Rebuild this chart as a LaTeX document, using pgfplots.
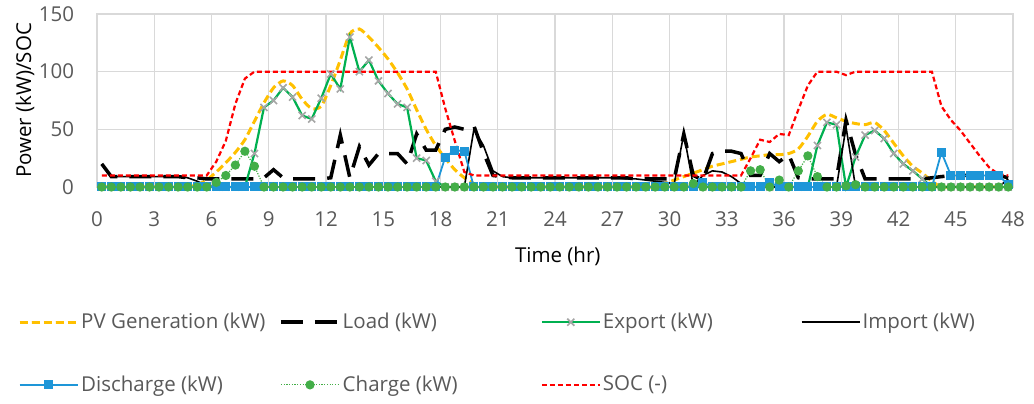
\documentclass[border=0pt]{standalone}
\usepackage{fontspec}
\setmainfont{Open Sans}
\usepackage{pgfplots}
\usepackage{pgfplotstable}
\pgfplotsset{compat=1.18}
\definecolor{txt}{HTML}{595959}
\definecolor{gridc}{HTML}{D9D9D9}
\definecolor{pvc}{HTML}{FFC000}
\definecolor{expc}{HTML}{00B050}
\definecolor{expm}{HTML}{A6A6A6}
\definecolor{disc}{HTML}{1E96D8}
\definecolor{chgc}{HTML}{43AE48}
\definecolor{socc}{HTML}{FF0000}
\newcommand{\lf}{\fontsize{20.5}{24}\selectfont}
\pgfplotstableread{
x pv load exp imp dis chg soc
0.25 0 20 0 20 0 0 10
0.75 0 9 0 9 0 0 10
1.25 0 9 0 9 0 0 10
1.75 0 9 0 9 0 0 10
2.25 0 9 0 9 0 0 10
2.75 0 9 0 9 0 0 10
3.25 0 9 0 9 0 0 10
3.75 0 9 0 9 0 0 10
4.25 0 9 0 9 0 0 10
4.75 0 8 0 8 0 0 10
5.25 2 8 0 5 0 0 10
5.75 6 7 0 1 0 0 10
6.25 13 7 0 0 0 4 22
6.75 21 7 0 0 0 10 40
7.25 30 7 0 0 0 19 72
7.75 41 7 0 0 0 31 94
8.25 57 7 29 0 0 18 100
8.75 73 8 69 0 0 0 100
9.25 86 15 75 0 0 0 100
9.75 92 8 86 0 0 0 100
10.25 88 7 78 0 0 0 100
10.75 76 7 62 0 0 0 100
11.25 68 7 59 0 0 0 100
11.75 70 7 77 0 0 0 100
12.25 88 8 98 0 0 0 100
12.75 110 45 85 0 0 0 100
13.25 133 8 130 0 0 0 100
13.75 137 35 100 0 0 0 100
14.25 130 19 110 0 0 0 100
14.75 121 29 92 0 0 0 100
15.25 111 29 81 0 0 0 100
15.75 99 29 72 0 0 0 100
16.25 85 20 69 0 0 0 100
16.75 67 46 25 0 0 0 100
17.25 50 32 23 0 0 0 100
17.75 36 32 5 0 0 0 100
18.25 25 50 0 0 26 0 68
18.75 15 52 0 0 32 0 40
19.25 8 50 0 0 31 0 13
19.75 3 53 0 50 0 0 10
20.25 0 30 0 36 0 0 10
20.75 0 10 0 14 0 0 10
21.25 0 9 0 9 0 0 10
21.75 0 8 0 8 0 0 10
22.25 0 8 0 8 0 0 10
22.75 0 8 0 8 0 0 10
23.25 0 8 0 8 0 0 10
23.75 0 8 0 8 0 0 10
24.25 0 8 0 8 0 0 10
24.75 0 8 0 8 0 0 10
25.25 0 8 0 8 0 0 10
25.75 0 8 0 8 0 0 10
26.25 0 8 0 8 0 0 10
26.75 0 8 0 8 0 0 10
27.25 0 8 0 8 0 0 10
27.75 0 8 0 7 0 0 10
28.25 0 7 0 7 0 0 10
28.75 0 7 0 6 0 0 10
29.25 0 7 0 5 0 0 10
29.75 3 7 0 4 0 0 10
30.25 6 7 0 3 0 0 10
30.75 9 46 0 46 0 0 10
31.25 12 10 0 1 0 3 10
31.75 15 6 0 10 4 0 10
32.25 18 29 0 14 0 0 10
32.75 20 31 0 13 0 0 10
33.25 22 31 0 9 0 0 10
33.75 24 29 0 3 0 0 10
34.25 26 10 0 0 0 14 25
34.75 27 10 0 0 0 15 41
35.25 28 29 0 0 4 0 39
35.75 28 22 0 0 0 6 46
36.25 29 28 0 0 0 0 45
36.75 33 8 0 0 0 14 67
37.25 44 7 0 0 0 27 88
37.75 57 7 36 0 0 9 100
38.25 63 7 56 0 0 0 100
38.75 60 7 54 0 0 0 100
39.25 57 58 0 52 0 1 97
39.75 55 28 26 0 0 2 100
40.25 54 7 45 0 0 0 100
40.75 56 7 49 0 0 0 100
41.25 49 7 42 0 0 0 100
41.75 38 7 29 0 0 0 100
42.25 27 7 20 0 0 0 100
42.75 18 7 14 0 0 0 100
43.25 12 7 7 0 0 0 100
43.75 5 8 0 0 0 0 100
44.25 0 9 0 0 30 0 70
44.75 0 10 0 0 10 0 58
45.25 0 10 0 0 10 0 49
45.75 0 10 0 0 10 0 38
46.25 0 10 0 0 10 0 27
46.75 0 10 0 0 10 0 17
47.25 0 10 0 0 10 0 11
47.75 0 8 0 7 2 0 10
}\datatable
\begin{document}
\lf
\begin{tikzpicture}[x=1pt,y=1pt]
\path[use as bounding box] (0,0) rectangle (1034,404);
\begin{axis}[
  at={(97pt,217pt)}, anchor=south west,
  scale only axis, width=916pt, height=173pt,
  xmin=0, xmax=48, ymin=0, ymax=150,
  xtick={0,3,...,48}, ytick={0,50,100,150},
  grid=major, major grid style={draw=gridc, line width=1.2pt},
  axis line style={draw=gridc, line width=1.2pt},
  major tick length=0pt,
  clip=false,
  /pgf/number format/assume math mode=true,
  tick label style={font=\lf, text=txt},
  xticklabel style={yshift=-18pt},
  yticklabel style={xshift=-16pt},
  xlabel={Time (hr)}, ylabel={Power (kW)/SOC},
  label style={font=\lf, text=txt},
  every axis x label/.style={at={(axis description cs:0.503,-0.399)}, anchor=center},
  every axis y label/.style={at={(axis description cs:-0.0786,0.5)}, rotate=90, anchor=center},
  legend columns=4,
  legend cell align=left,
  legend style={at={(axis description cs:-0.0862,-0.715)}, anchor=north west,
    draw=none, fill=none, inner sep=0pt, font=\lf, text=txt,
    row sep=40pt, column sep=0pt, nodes={inner sep=2pt}},
  /tikz/every even column/.append style={column sep=2pt},
  legend image code/.code={\draw[mark repeat=2,mark phase=2,#1] plot coordinates {(0pt,0pt) (29pt,0pt) (58pt,0pt)};},
]
\addplot[pvc, line width=3pt, dash pattern=on 8pt off 4pt, smooth, tension=0.4, no marks] table[x=x,y=pv]{\datatable};
\addlegendentry{\makebox[194pt][l]{PV Generation (kW)}}
\addplot[black, line width=3.5pt, dash pattern=on 22pt off 12pt, no marks] table[x=x,y=load]{\datatable};
\addlegendentry{\makebox[194pt][l]{Load (kW)}}
\addplot[expc, line width=2.2pt, mark=x, mark size=5pt, mark options={solid, draw=expm, line width=1.6pt}] table[x=x,y=exp]{\datatable};
\addlegendentry{\makebox[194pt][l]{Export (kW)}}
\addplot[black, line width=1.6pt, no marks] table[x=x,y=imp]{\datatable};
\addlegendentry{\makebox[120pt][l]{Import (kW)}}
\addplot[disc, line width=1.8pt, mark=square*, mark size=3.6pt, mark options={solid, fill=disc, draw=disc}] table[x=x,y=dis]{\datatable};
\addlegendentry{\makebox[194pt][l]{Discharge (kW)}}
\addplot[chgc, line width=1.2pt, dash pattern=on 1.2pt off 1.5pt, mark=*, mark size=4pt, mark options={solid, fill=chgc, draw=chgc}] table[x=x,y=chg]{\datatable};
\addlegendentry{\makebox[194pt][l]{Charge (kW)}}
\addplot[socc, line width=2.2pt, dash pattern=on 5pt off 3pt, no marks] table[x=x,y=soc]{\datatable};
\addlegendentry{\makebox[194pt][l]{SOC (-)}}
\end{axis}
\end{tikzpicture}
\end{document}
